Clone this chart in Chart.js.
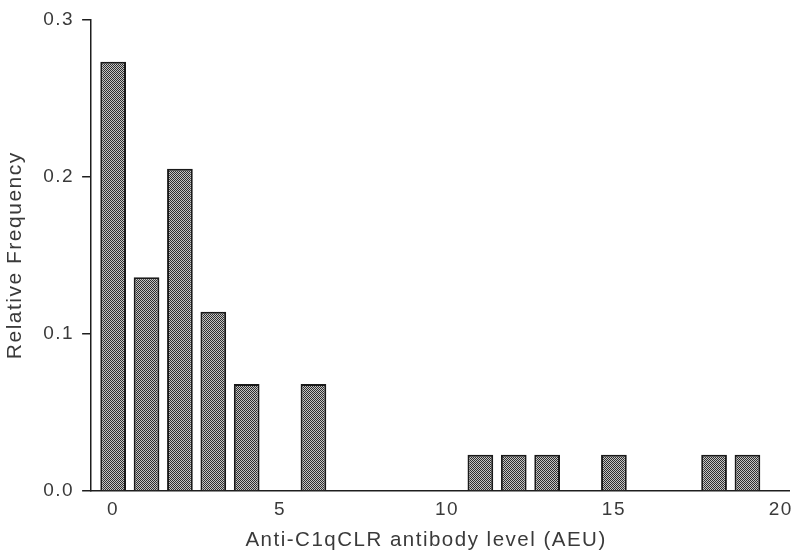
<!DOCTYPE html>
<html>
<head>
<meta charset="utf-8">
<script src="https://cdn.jsdelivr.net/npm/chart.js@4.4.1/dist/chart.umd.min.js"></script>
<style>
  html, body { margin: 0; padding: 0; background: #fff; overflow: hidden; }
  #wrap { width: 800px; height: 556px; }
</style>
</head>
<body>
<div id="wrap"><canvas id="histChart" width="800" height="556"></canvas></div>
<script>
// antibody level bins (AEU) and their relative frequency
const levels = [0, 1, 2, 3, 4, 5, 6, 7, 8, 9, 10, 11, 12, 13, 14, 15, 16, 17, 18, 19];
const relFreq = [0.273, 0.136, 0.205, 0.114, 0.068, 0, 0.068, 0, 0, 0, 0, 0.023, 0.023, 0.023, 0, 0.023, 0, 0, 0.023, 0.023];
const xTicks = [0, 5, 10, 15, 20];
const yTicks = [0, 0.1, 0.2, 0.3];

const FONT = "'Liberation Sans', Arial, sans-serif";
const TEXT_COLOR = "#3a3a3a";

// stipple fill like the old printed figure
function makeStipple(ctx) {
  const c = document.createElement("canvas");
  c.width = 2;
  c.height = 2;
  const p = c.getContext("2d");
  p.fillStyle = "#c4c4c4";
  p.fillRect(0, 0, 2, 2);
  p.fillStyle = "#2e2e2e";
  p.fillRect(0, 0, 1, 1);
  p.fillRect(1, 1, 1, 1);
  return ctx.createPattern(c, "repeat");
}

// canvas resets letterSpacing when resized, so set it again before layout and draw
const spacingPlugin = {
  id: "spacing",
  beforeLayout(chart) { chart.ctx.letterSpacing = "1.5px"; },
  beforeDraw(chart) { chart.ctx.letterSpacing = "1.5px"; }
};

const canvas = document.getElementById("histChart");
const ctx = canvas.getContext("2d");

new Chart(ctx, {
  type: "bar",
  data: {
    datasets: [{
      data: levels.map((x, i) => ({ x: x, y: relFreq[i] })),
      backgroundColor: makeStipple(ctx),
      borderColor: "#1a1a1a",
      borderWidth: 2,
      categoryPercentage: 1,
      barPercentage: 0.77
    }]
  },
  options: {
    responsive: false,
    animation: false,
    devicePixelRatio: 1,
    layout: { padding: { left: 3, right: 8, top: 8, bottom: 0 } },
    plugins: {
      legend: { display: false },
      tooltip: { enabled: false }
    },
    scales: {
      x: {
        type: "linear",
        offset: false,
        min: -0.66,
        max: 20.27,
        afterBuildTicks: (axis) => { axis.ticks = xTicks.map(v => ({ value: v })); },
        afterFit: (axis) => { axis.height = 65; },
        grid: { display: false, drawTicks: false, offset: false },
        border: { display: true, color: "#1e1e1e", width: 1.5 },
        ticks: {
          padding: 7,
          maxRotation: 0,
          color: TEXT_COLOR,
          font: { family: FONT, size: 19 }
        },
        title: {
          display: true,
          // trailing spaces nudge the centred title left, as in the original
          text: "Anti-C1qCLR antibody level (AEU)    ",
          color: TEXT_COLOR,
          font: { family: FONT, size: 20.5 },
          padding: { top: 0, bottom: 3 }
        }
      },
      y: {
        min: 0,
        max: 0.3,
        afterBuildTicks: (axis) => { axis.ticks = yTicks.map(v => ({ value: v })); },
        grid: { drawOnChartArea: false, drawTicks: true, tickLength: 9, color: "#1e1e1e", lineWidth: 1.5 },
        border: { display: true, color: "#1e1e1e", width: 1.5 },
        ticks: {
          padding: 8,
          color: TEXT_COLOR,
          font: { family: FONT, size: 19 },
          callback: (v) => Number(v).toFixed(1)
        },
        title: {
          display: true,
          text: "Relative Frequency",
          color: TEXT_COLOR,
          font: { family: FONT, size: 21 },
          padding: { top: 0, bottom: 7 }
        }
      }
    }
  },
  plugins: [spacingPlugin]
});
</script>
</body>
</html>
